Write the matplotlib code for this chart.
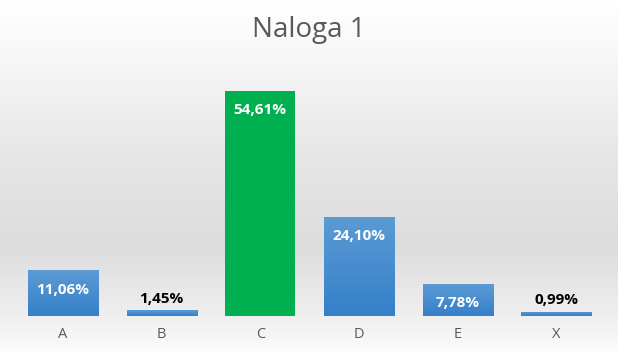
import matplotlib
matplotlib.use('Agg')
import matplotlib.pyplot as plt
import numpy as np
from matplotlib.colors import LinearSegmentedColormap

plt.rcParams['font.family'] = ['Open Sans', 'DejaVu Sans']

# data
categories = ['A', 'B', 'C', 'D', 'E', 'X']
values = [11.06, 1.45, 54.61, 24.10, 7.78, 0.99]
labels = ['11,06%', '1,45%', '54,61%', '24,10%', '7,78%', '0,99%']
highlight = 'C'

fig = plt.figure(figsize=(6.18, 3.51), dpi=100)

# background gradient (white top, grey band, lighter bottom)
bg = fig.add_axes([0, 0, 1, 1], zorder=-10)
bg_cmap = LinearSegmentedColormap.from_list(
    'bg', [(0.0, '#fbfbfb'), (0.10, '#efefef'), (0.30, '#dcdcdc'),
           (0.55, '#e6e6e6'), (0.85, '#f8f8f8'), (1.0, '#ffffff')])
grad = np.linspace(0, 1, 256).reshape(-1, 1)
bg.imshow(grad, aspect='auto', cmap=bg_cmap, origin='lower', extent=[0, 1, 0, 1])
bg.axis('off')

ax = fig.add_axes([0.022, 0.0997, 0.958, 0.704])
ax.patch.set_alpha(0)
x = np.arange(len(categories))
bars = ax.bar(x, values, width=0.71, color='none', edgecolor='none')

blue_cmap = LinearSegmentedColormap.from_list('blue', ['#3580c9', '#5b9bd5'])
for bar, cat in zip(bars, categories):
    x0, w, h = bar.get_x(), bar.get_width(), bar.get_height()
    if cat == highlight:
        bar.set_facecolor('#00b050')
    else:
        img = ax.imshow(np.linspace(0, 1, 100).reshape(-1, 1), cmap=blue_cmap,
                        origin='lower', aspect='auto',
                        extent=[x0, x0 + w, 0, h], zorder=2)
        img.set_clip_path(bar)

for bar, lab, v in zip(bars, labels, values):
    cx = bar.get_x() + bar.get_width() / 2
    if v > 5:
        ax.text(cx, v - 4.7, lab, ha='center', va='center', color='white',
                fontsize=11, fontweight='bold', zorder=5)
    else:
        ax.text(cx, v + 1.1, lab, ha='center', va='bottom', color='black',
                fontsize=11, fontweight='bold', zorder=5)

ax.set_xlim(-0.5, len(categories) - 0.5)
ax.set_ylim(0, 60)
ax.set_xticks(x)
ax.set_xticklabels(categories, fontsize=10.5, color='#595959')
ax.tick_params(axis='x', length=0, pad=8)
ax.set_yticks([])
for s in ax.spines.values():
    s.set_visible(False)

fig.text(0.5, 0.915, 'Naloga 1', ha='center', va='center', fontsize=20, color='#595959')

fig.savefig('out.png', dpi=100)
